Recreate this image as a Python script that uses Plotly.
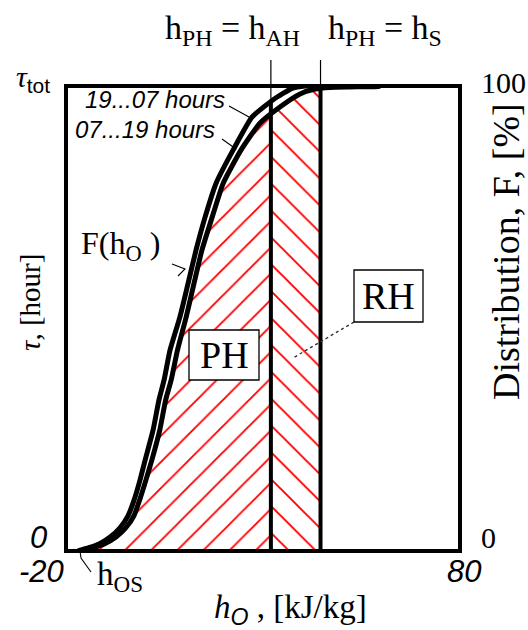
import numpy as np
import plotly.graph_objects as go

# Cumulative distribution F(h_O) of outdoor-air enthalpy, [%]
# night-time operation, 19...07 hours
h_night = [-17.0, -14.2, -11.6, -8.8, -6.3, -4.3, -2.7, -1.2, 0.1, 2.1, 3.6, 4.9, 6.4,
           8.9, 11.0, 13.0, 15.3, 18.1, 22.4, 27.2, 32.5, 37.4, 40.7, 59.7]
F_night = [0.0, 0.7, 1.5, 3.0, 5.0, 7.5, 11.0, 15.3, 19.6, 26.0, 32.5, 36.8, 43.2,
           50.3, 57.6, 64.7, 71.8, 79.1, 86.2, 93.3, 97.0, 99.5, 100.0, 100.0]
# day-time operation, 07...19 hours
h_day = [-16.3, -13.1, -10.3, -7.3, -4.8, -2.8, -1.3, 0.3, 1.8, 3.8, 5.3, 6.7, 8.3,
         10.5, 12.5, 14.5, 17.1, 19.9, 24.4, 29.2, 34.3, 39.4, 43.2, 47.0, 52.1, 59.2, 59.7]
F_day = [0.0, 0.7, 1.5, 3.0, 5.0, 7.5, 11.0, 15.3, 19.6, 26.0, 32.5, 36.8, 43.2,
         50.3, 57.6, 64.7, 71.8, 79.1, 86.2, 92.0, 95.5, 98.3, 99.35, 99.7, 99.8, 99.9, 100.0]

h_OS = -16.5     # lowest outdoor enthalpy
h_AH = 32.0      # preheating limit = after-heater enthalpy
h_S = 44.6       # preheating limit = supply enthalpy

x_ticks = [-20, 80]
x_tick_text = ["-20", "80"]
F_ticks = [0, 100]
F_tick_text = ["0", "100"]

SERIF = "Liberation Serif"
SANS = "Liberation Sans"

W, H = 528, 630
L, R, T, B = 66, 460, 86, 551  # plot-area edges in px


def P(px, py):
    """pixel position -> paper coordinates"""
    return (px - L) / (R - L), (B - py) / (B - T)


hd = np.array(h_day)
Fd = np.array(F_day)
F_AH_day = float(np.interp(h_AH, hd, Fd))
F_S_day = float(np.interp(h_S, hd, Fd))
F_AH_top = float(np.interp(h_AH, h_night, F_night))
F_S_top = float(np.interp(h_S, h_night, F_night))

# preheating region PH: below the curve, up to h_AH
ph_x = [h for h in h_day if h < h_AH] + [h_AH]
ph_y = [f for h, f in zip(h_day, F_day) if h < h_AH] + [F_AH_day]
# reheating region RH: below the curve, between h_AH and h_S
rh_x = [h_AH] + [h for h in h_day if h_AH < h < h_S] + [h_S]
rh_y = [F_AH_day] + [f for h, f in zip(h_day, F_day) if h_AH < h < h_S] + [F_S_day]

fig = go.Figure()

# pattern tiles are size*sqrt(2) wide, so size ~ spacing / sqrt(2)
fig.add_trace(go.Scatter(
    x=ph_x, y=ph_y, mode="lines", line=dict(width=0), fill="tozeroy",
    fillcolor="rgba(0,0,0,0)",
    fillpattern=dict(shape="/", fgcolor="#ff0000", fgopacity=1, size=18.5, solidity=0.1),
    hoverinfo="skip", showlegend=False))
fig.add_trace(go.Scatter(
    x=rh_x, y=rh_y, mode="lines", line=dict(width=0), fill="tozeroy",
    fillcolor="rgba(0,0,0,0)",
    fillpattern=dict(shape="\\", fgcolor="#ff0000", fgopacity=1, size=19, solidity=0.1),
    hoverinfo="skip", showlegend=False))

# boundary lines at h_AH and h_S
for hv, fv in [(h_AH, F_AH_top), (h_S, F_S_top)]:
    fig.add_trace(go.Scatter(x=[hv, hv], y=[0, fv], mode="lines",
                             line=dict(color="black", width=4),
                             hoverinfo="skip", showlegend=False))

# distribution curves
fig.add_trace(go.Scatter(x=h_night, y=F_night, mode="lines",
                         line=dict(color="black", width=5, shape="spline", smoothing=0.5),
                         showlegend=False))
fig.add_trace(go.Scatter(x=h_day, y=F_day, mode="lines",
                         line=dict(color="black", width=5, shape="spline", smoothing=0.5),
                         showlegend=False))

shapes = []
# frame
shapes.append(dict(type="rect", xref="paper", yref="paper", x0=0, y0=0, x1=1, y1=1,
                   line=dict(color="black", width=4), layer="above"))
# thin marker lines above the frame
for hv in (h_AH, h_S):
    shapes.append(dict(type="line", xref="x", yref="paper", x0=hv, x1=hv,
                       y0=0.9, y1=P(0, 60)[1], line=dict(color="black", width=1.2)))


def seg(points, color="black", width=1.1, dash="solid"):
    path = ""
    for i, (px, py) in enumerate(points):
        xp, yp = P(px, py)
        path += ("M" if i == 0 else "L") + f"{xp:.5f},{yp:.5f}"
    return dict(type="path", xref="paper", yref="paper", path=path,
                line=dict(color=color, width=width, dash=dash), layer="above")


shapes.append(seg([(229, 106), (249, 117)]))
shapes.append(seg([(222, 139), (236, 149)]))
shapes.append(seg([(172, 264), (185, 269), (178, 276)]))
shapes.append(seg([(80, 551), (81, 558), (91, 572)]))
shapes.append(seg([(354, 322), (293, 358)], color="#333333", width=1.4, dash="dot"))

# label boxes
for (x0, y0, x1, y1) in [(189, 330, 259, 380), (354, 270, 423, 322)]:
    a0 = P(x0, y1)
    a1 = P(x1, y0)
    shapes.append(dict(type="rect", xref="paper", yref="paper",
                       x0=a0[0], y0=a0[1], x1=a1[0], y1=a1[1],
                       line=dict(color="black", width=1.3), fillcolor="white",
                       layer="above"))

ann = []


def text(px, py, s, size, family=SERIF, angle=0, xanchor="center"):
    xp, yp = P(px, py)
    ann.append(dict(x=xp, y=yp, xref="paper", yref="paper", text=s, showarrow=False,
                    xanchor=xanchor, yanchor="middle", textangle=angle,
                    font=dict(family=family, size=size, color="black")))


# h axis tick labels
text(41, 571, f"<i>{x_tick_text[0]}</i>", 31, SANS)
text(464, 571, f"<i>{x_tick_text[1]}</i>", 31, SANS)
# tau axis labels
text(38, 537, "<i>0</i>", 31, SANS)
text(33, 79, f"<i>τ</i><sub><span style='font-family:{SANS}'>tot</span></sub>", 30)
# F axis labels
text(488, 537, F_tick_text[0], 30)
text(503, 82, F_tick_text[1], 30)

# axis titles
text(290, 609, f"<i>h</i><sub><i><span style='font-family:{SANS}'>O</span></i></sub> , [kJ/kg]", 33)
text(30, 303, "<i>τ</i>, [hour]", 29, angle=-90)
text(506, 252, "Distribution, F, [%]", 38, angle=-90)

# limit labels
text(232, 30, "h<sub>PH</sub> = h<sub>AH</sub>", 34)
text(385, 30, "h<sub>PH</sub> = h<sub>S</sub>", 34)
text(120, 576, "h<sub>OS</sub>", 33)

# curve labels
text(155, 99, "<i>19...07 hours</i>", 24, SANS)
text(145, 129, "<i>07...19 hours</i>", 24, SANS)
text(120, 245, "F(h<sub>O</sub> )", 32)

# region labels
text(224, 355, "PH", 38)
text(388, 296, "RH", 38)

fig.update_layout(
    width=W, height=H, autosize=False,
    margin=dict(l=L, r=W - R, t=T, b=H - B, pad=0),
    paper_bgcolor="white", plot_bgcolor="white",
    xaxis=dict(range=[-20, 80], visible=False, fixedrange=True),
    yaxis=dict(range=[0, 100], visible=False, fixedrange=True),
    shapes=shapes, annotations=ann, showlegend=False,
)

fig.write_html("out.html")
